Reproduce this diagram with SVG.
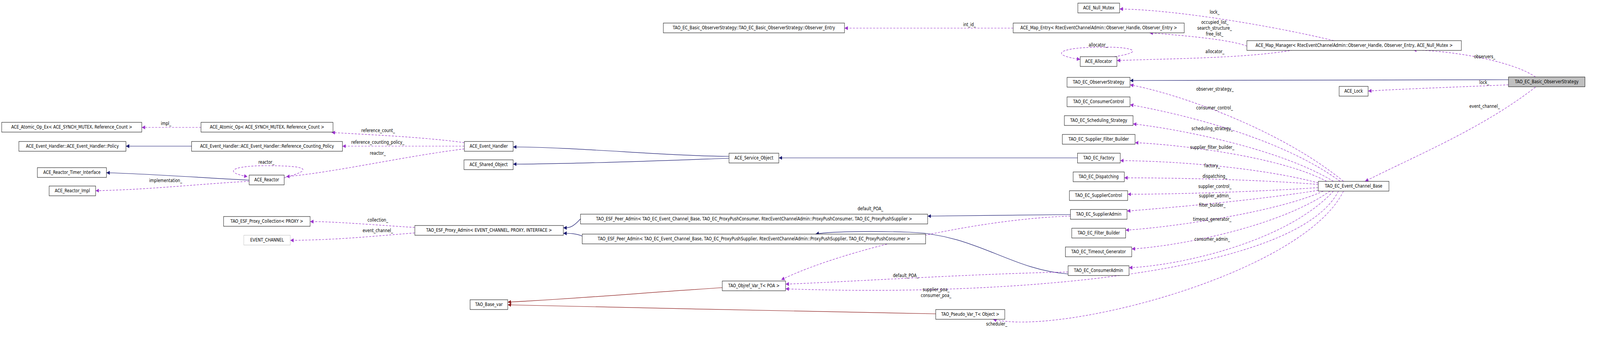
<svg xmlns="http://www.w3.org/2000/svg" width="4712" height="893" viewBox="0 0 4712 893">
<style>
.n rect{fill:#fff;stroke:#000;stroke-width:1}
.n.g rect{fill:#bfbfbf}
.n.e rect{stroke:#bfbfbf}
text{font-family:"DejaVu Sans","Liberation Sans",sans-serif;font-size:11.6px;fill:#000}
.n text{text-anchor:middle}
.l{text-anchor:middle}
.inh{fill:none;stroke:#191970;stroke-width:1.2}
.use{fill:none;stroke:#9a32cd;stroke-width:1.2;stroke-dasharray:6,4}
.tpl{fill:none;stroke:#8b1a1a;stroke-width:1.2}
</style>
<defs>
<marker id="ab" viewBox="0 0 10 10" refX="10" refY="5" markerWidth="10" markerHeight="10" markerUnits="userSpaceOnUse" orient="auto"><path d="M0,0L10,5L0,10z" fill="#191970"/></marker>
<marker id="ap" viewBox="0 0 10 10" refX="10" refY="5" markerWidth="10" markerHeight="10" markerUnits="userSpaceOnUse" orient="auto"><path d="M0,0L10,5L0,10z" fill="#9a32cd"/></marker>
<marker id="ar" viewBox="0 0 10 10" refX="10" refY="5" markerWidth="10" markerHeight="10" markerUnits="userSpaceOnUse" orient="auto"><path d="M0,0L10,5L0,10z" fill="#8b1a1a"/></marker>
</defs>
<rect width="4712" height="893" fill="#fff"/>
<g transform="scale(0.862,1)">
<g id="edges">
<path class="inh" marker-end="url(#ab)" d="M4480,204 L3356,206"/>
<path class="use" marker-end="url(#ap)" d="M4560,197 C4500,160 4330,130 4197,128"/>
<path class="use" marker-end="url(#ap)" d="M4480,217 C4350,222 4150,228 4063,233"/>
<path class="use" marker-end="url(#ap)" d="M4560,223 C4400,330 4200,400 4054,464"/>
<path class="use" marker-end="url(#ap)" d="M3961,104 C3800,70 3500,25 3325,23"/>
<path class="use" marker-end="url(#ap)" d="M3703,118 C3650,100 3500,90 3414,84"/>
<path class="use" marker-end="url(#ap)" d="M3840,128 C3700,150 3450,150 3317,155"/>
<path class="use" marker-end="url(#ap)" d="M3310,145 C3420,130 3340,118 3262,121 C3150,121 3110,140 3208,152"/>
<path class="use" marker-end="url(#ap)" d="M3009,72 L2508,72"/>
<path class="use" marker-end="url(#ap)" d="M3990,464 C3800,330 3500,240 3356,217"/>
<path class="use" marker-end="url(#ap)" d="M3980,464 C3800,350 3500,290 3356,268"/>
<path class="use" marker-end="url(#ap)" d="M3960,464 C3800,380 3500,330 3365,317"/>
<path class="use" marker-end="url(#ap)" d="M3940,464 C3800,400 3500,370 3371,365"/>
<path class="use" marker-end="url(#ap)" d="M3915,468 C3750,430 3500,412 3327,411"/>
<path class="use" marker-end="url(#ap)" d="M3915,472 C3750,460 3500,455 3339,455"/>
<path class="use" marker-end="url(#ap)" d="M3915,480 C3750,490 3500,497 3349,497"/>
<path class="use" marker-end="url(#ap)" d="M3915,487 C3750,510 3500,530 3347,540"/>
<path class="use" marker-end="url(#ap)" d="M3930,489 C3800,540 3500,580 3343,589"/>
<path class="use" marker-end="url(#ap)" d="M3950,489 C3800,580 3500,630 3361,637"/>
<path class="use" marker-end="url(#ap)" d="M3960,489 C3820,620 3500,680 3353,685"/>
<path class="use" marker-end="url(#ap)" d="M3975,489 C3850,700 3000,760 2333,739"/>
<path class="use" marker-end="url(#ap)" d="M3990,489 C3870,700 3150,860 2949,817"/>
<path class="inh" marker-end="url(#ab)" d="M3200,404 L2313,404"/>
<path class="inh" marker-end="url(#ab)" d="M3179,549 L2755,553"/>
<path class="inh" marker-end="url(#ab)" d="M3172,701 C3000,690 2900,600 2700,594 C2550,590 2450,594 2422,599"/>
<path class="use" marker-end="url(#ap)" d="M3179,553 C2900,560 2500,640 2320,716"/>
<path class="use" marker-end="url(#ap)" d="M3172,696 C2900,700 2500,722 2333,727"/>
<path class="inh" marker-end="url(#ab)" d="M2165,400 C2000,400 1700,376 1524,376"/>
<path class="inh" marker-end="url(#ab)" d="M2165,405 C2000,410 1700,420 1524,420"/>
<path class="inh" marker-end="url(#ab)" d="M1724,560 C1700,583 1690,583 1673,583"/>
<path class="inh" marker-end="url(#ab)" d="M1729,604 C1710,597 1690,597 1673,597"/>
<path class="use" marker-end="url(#ap)" d="M1232,582 C1100,575 1000,567 921,567"/>
<path class="use" marker-end="url(#ap)" d="M1232,596 C1100,605 1000,614 862,615"/>
<path class="use" marker-end="url(#ap)" d="M1379,365 C1250,350 1100,345 985,339"/>
<path class="use" marker-end="url(#ap)" d="M1379,374 L1017,374"/>
<path class="use" marker-end="url(#ap)" d="M1379,381 C1200,400 1000,440 850,452"/>
<path class="use" marker-end="url(#ap)" d="M844,455 C950,430 890,424 790,424 C690,424 660,440 735,452"/>
<path class="inh" marker-end="url(#ab)" d="M569,374 L374,374"/>
<path class="use" marker-end="url(#ap)" d="M597,326 L421,326"/>
<path class="inh" marker-end="url(#ab)" d="M740,461 C600,455 450,445 316,442"/>
<path class="use" marker-end="url(#ap)" d="M740,464 C600,470 450,485 284,488"/>
<path class="tpl" marker-end="url(#ar)" d="M2145,736 C1900,750 1700,765 1508,773"/>
<path class="tpl" marker-end="url(#ar)" d="M2779,803 C2400,800 1900,785 1508,780"/>
</g>
<g id="labels">
<text class="l" x="4409" y="149">observers_</text>
<text class="l" x="4408" y="215">lock_</text>
<text class="l" x="4409" y="276">event_channel_</text>
<text class="l" x="3607" y="35">lock_</text>
<text class="l" x="3608" y="61">occupied_list_</text>
<text class="l" x="3607" y="76">search_structure_</text>
<text class="l" x="3607" y="91">free_list_</text>
<text class="l" x="3261" y="119">allocator_</text>
<text class="l" x="3608" y="136">allocator_</text>
<text class="l" x="2879" y="67">int_id_</text>
<text class="l" x="3608" y="232">observer_strategy_</text>
<text class="l" x="3607" y="280">consumer_control_</text>
<text class="l" x="3600" y="333">scheduling_strategy_</text>
<text class="l" x="3600" y="381">supplier_filter_builder_</text>
<text class="l" x="3600" y="428">factory_</text>
<text class="l" x="3608" y="455">dispatching_</text>
<text class="l" x="3608" y="481">supplier_control_</text>
<text class="l" x="3608" y="505">supplier_admin_</text>
<text class="l" x="3600" y="529">filter_builder_</text>
<text class="l" x="3600" y="565">timeout_generator_</text>
<text class="l" x="3600" y="616">consumer_admin_</text>
<text class="l" x="2780" y="745">supplier_poa_</text>
<text class="l" x="2780" y="760">consumer_poa_</text>
<text class="l" x="2960" y="833">scheduler_</text>
<text class="l" x="2585" y="538">default_POA_</text>
<text class="l" x="2690" y="709">default_POA_</text>
<text class="l" x="1122" y="567">collection_</text>
<text class="l" x="1122" y="594">event_channel_</text>
<text class="l" x="1123" y="338">reference_count_</text>
<text class="l" x="1122" y="368">reference_counting_policy_</text>
<text class="l" x="1122" y="396">reactor_</text>
<text class="l" x="791" y="419">reactor_</text>
<text class="l" x="492" y="466">implementation_</text>
<text class="l" x="493" y="320">impl_</text>
</g>
<g id="n_basic" class="n g"><rect x="4480" y="197" width="227" height="25"/><text x="4593.5" y="213.5">TAO_EC_Basic_ObserverStrategy</text></g>
<g id="n_mapmgr" class="n"><rect x="3703" y="104" width="637" height="25"/><text x="4021.5" y="120.5">ACE_Map_Manager&lt; RtecEventChannelAdmin::Observer_Handle, Observer_Entry, ACE_Null_Mutex &gt;</text></g>
<g id="n_lock" class="n"><rect x="3977" y="221" width="86" height="25"/><text x="4020" y="237.5">ACE_Lock</text></g>
<g id="n_nullmutex" class="n"><rect x="3201" y="8" width="124" height="25"/><text x="3263" y="24.5">ACE_Null_Mutex</text></g>
<g id="n_mapentry" class="n"><rect x="3009" y="59" width="508" height="25"/><text x="3263" y="75.5">ACE_Map_Entry&lt; RtecEventChannelAdmin::Observer_Handle, Observer_Entry &gt;</text></g>
<g id="n_alloc" class="n"><rect x="3208" y="145" width="109" height="25"/><text x="3262.5" y="161.5">ACE_Allocator</text></g>
<g id="n_obsstrat" class="n"><rect x="3169" y="198" width="187" height="25"/><text x="3262.5" y="214.5">TAO_EC_ObserverStrategy</text></g>
<g id="n_consctl" class="n"><rect x="3169" y="248" width="187" height="25"/><text x="3262.5" y="264.5">TAO_EC_ConsumerControl</text></g>
<g id="n_sched" class="n"><rect x="3161" y="296" width="204" height="25"/><text x="3263" y="312.5">TAO_EC_Scheduling_Strategy</text></g>
<g id="n_sfb" class="n"><rect x="3155" y="344" width="216" height="25"/><text x="3263" y="360.5">TAO_EC_Supplier_Filter_Builder</text></g>
<g id="n_factory" class="n"><rect x="3200" y="392" width="127" height="25"/><text x="3263.5" y="408.5">TAO_EC_Factory</text></g>
<g id="n_disp" class="n"><rect x="3187" y="440" width="152" height="25"/><text x="3263" y="456.5">TAO_EC_Dispatching</text></g>
<g id="n_supctl" class="n"><rect x="3176" y="488" width="173" height="25"/><text x="3262.5" y="504.5">TAO_EC_SupplierControl</text></g>
<g id="n_supadm" class="n"><rect x="3179" y="536" width="168" height="25"/><text x="3263" y="552.5">TAO_EC_SupplierAdmin</text></g>
<g id="n_fb" class="n"><rect x="3183" y="584" width="160" height="25"/><text x="3263" y="600.5">TAO_EC_Filter_Builder</text></g>
<g id="n_tg" class="n"><rect x="3164" y="632" width="197" height="25"/><text x="3262.5" y="648.5">TAO_EC_Timeout_Generator</text></g>
<g id="n_consadm" class="n"><rect x="3172" y="680" width="181" height="25"/><text x="3262.5" y="696.5">TAO_EC_ConsumerAdmin</text></g>
<g id="n_ecb" class="n"><rect x="3915" y="464" width="210" height="25"/><text x="4020" y="480.5">TAO_EC_Event_Channel_Base</text></g>
<g id="n_obsentry" class="n"><rect x="1970" y="59" width="538" height="25"/><text x="2239" y="75.5">TAO_EC_Basic_ObserverStrategy::TAO_EC_Basic_ObserverStrategy::Observer_Entry</text></g>
<g id="n_objref" class="n"><rect x="2145" y="719" width="188" height="25"/><text x="2239" y="735.5">TAO_Objref_Var_T&lt; POA &gt;</text></g>
<g id="n_pseudo" class="n"><rect x="2779" y="792" width="205" height="25"/><text x="2881.5" y="808.5">TAO_Pseudo_Var_T&lt; Object &gt;</text></g>
<g id="n_basevar" class="n"><rect x="1396" y="767" width="112" height="25"/><text x="1452" y="783.5">TAO_Base_var</text></g>
<g id="n_peer1" class="n"><rect x="1724" y="548" width="1031" height="25"/><text x="2239.5" y="564.5">TAO_ESF_Peer_Admin&lt; TAO_EC_Event_Channel_Base, TAO_EC_ProxyPushConsumer, RtecEventChannelAdmin::ProxyPushConsumer, TAO_EC_ProxyPushSupplier &gt;</text></g>
<g id="n_peer2" class="n"><rect x="1729" y="599" width="1020" height="25"/><text x="2239" y="615.5">TAO_ESF_Peer_Admin&lt; TAO_EC_Event_Channel_Base, TAO_EC_ProxyPushSupplier, RtecEventChannelAdmin::ProxyPushSupplier, TAO_EC_ProxyPushConsumer &gt;</text></g>
<g id="n_proxyadmin" class="n"><rect x="1232" y="577" width="441" height="25"/><text x="1452.5" y="593.5">TAO_ESF_Proxy_Admin&lt; EVENT_CHANNEL, PROXY, INTERFACE &gt;</text></g>
<g id="n_collection" class="n"><rect x="664" y="554" width="257" height="25"/><text x="792.5" y="570.5">TAO_ESF_Proxy_Collection&lt; PROXY &gt;</text></g>
<g id="n_evch" class="n e"><rect x="724" y="602" width="138" height="25"/><text x="793" y="618.5">EVENT_CHANNEL</text></g>
<g id="n_service" class="n"><rect x="2165" y="392" width="148" height="25"/><text x="2239" y="408.5">ACE_Service_Object</text></g>
<g id="n_evh" class="n"><rect x="1379" y="362" width="145" height="25"/><text x="1451.5" y="378.5">ACE_Event_Handler</text></g>
<g id="n_shared" class="n"><rect x="1378" y="409" width="146" height="25"/><text x="1451" y="425.5">ACE_Shared_Object</text></g>
<g id="n_refpol" class="n"><rect x="569" y="362" width="448" height="25"/><text x="793" y="378.5">ACE_Event_Handler::ACE_Event_Handler::Reference_Counting_Policy</text></g>
<g id="n_policy" class="n"><rect x="56" y="362" width="318" height="25"/><text x="215" y="378.5">ACE_Event_Handler::ACE_Event_Handler::Policy</text></g>
<g id="n_atomic" class="n"><rect x="597" y="313" width="392" height="25"/><text x="793" y="329.5">ACE_Atomic_Op&lt; ACE_SYNCH_MUTEX, Reference_Count &gt;</text></g>
<g id="n_atomicex" class="n"><rect x="5" y="313" width="416" height="25"/><text x="213" y="329.5">ACE_Atomic_Op_Ex&lt; ACE_SYNCH_MUTEX, Reference_Count &gt;</text></g>
<g id="n_reactor" class="n"><rect x="740" y="448" width="104" height="25"/><text x="792" y="464.5">ACE_Reactor</text></g>
<g id="n_timer" class="n"><rect x="111" y="429" width="205" height="25"/><text x="213.5" y="445.5">ACE_Reactor_Timer_Interface</text></g>
<g id="n_impl" class="n"><rect x="146" y="476" width="138" height="25"/><text x="215" y="492.5">ACE_Reactor_Impl</text></g>
</g>
</svg>
